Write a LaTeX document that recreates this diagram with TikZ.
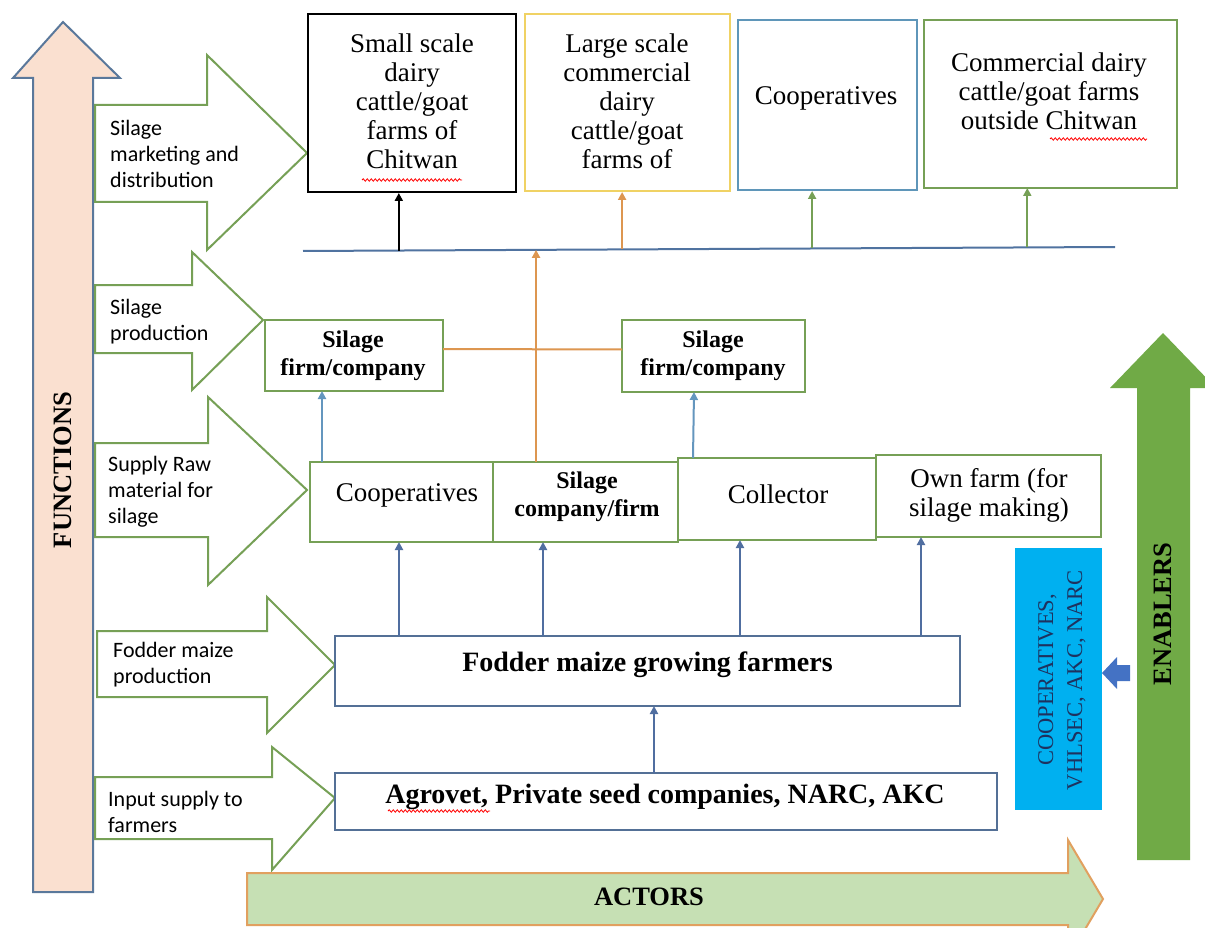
\documentclass[tikz,border=0pt]{standalone}
\usepackage{fontspec}
\setmainfont{Liberation Serif}
\newfontfamily\labelfont{Carlito}
\usetikzlibrary{arrows.meta,calc,decorations.pathmorphing}
\definecolor{gline}{RGB}{118,160,86}
\definecolor{bline}{RGB}{84,112,150}
\definecolor{barrow}{RGB}{80,110,160}
\definecolor{lbarrow}{RGB}{100,150,190}
\definecolor{orng}{RGB}{221,150,80}
\definecolor{yel}{RGB}{240,210,100}
\definecolor{bthree}{RGB}{95,150,185}
\definecolor{peach}{RGB}{250,224,208}
\definecolor{funcline}{RGB}{90,120,155}
\definecolor{actfill}{RGB}{198,224,180}
\definecolor{actline}{RGB}{225,160,95}
\definecolor{engreen}{RGB}{112,170,70}
\definecolor{cyanbox}{RGB}{0,176,240}
\definecolor{navy}{RGB}{30,50,95}
\definecolor{smallarrow}{RGB}{68,114,196}
\definecolor{hline}{RGB}{80,115,160}
\begin{document}
\begin{tikzpicture}[x=1pt,y=-1pt,
  gbox/.style={draw=gline, line width=2pt, inner sep=0pt, outer sep=0pt, fill=white},
  bbox/.style={draw=bline, line width=2pt, inner sep=0pt, outer sep=0pt, fill=white},
  reg/.style={inner sep=0pt, align=center, font=\fontsize{27}{29}\selectfont},
  bld/.style={inner sep=0pt, align=center, font=\fontsize{24}{28}\selectfont\bfseries},
  bigbld/.style={inner sep=0pt, align=center, font=\fontsize{26.5}{30}\selectfont\bfseries},
  boxbld/.style={inner sep=0pt, align=center, font=\fontsize{28}{30}\selectfont\bfseries},
  lbl/.style={inner sep=0pt, anchor=west, align=left, font=\fontsize{22}{26}\selectfont\labelfont},
  funarrow/.style={draw=gline, line width=2pt, fill=white, line join=miter},
  conn/.style={line width=2pt, -{Triangle[width=8pt,length=8pt]}},
  squig/.style={draw=red, line width=0.8pt, decorate, decoration={snake, amplitude=1.2pt, segment length=4pt}}
]
\useasboundingbox (0,0) rectangle (1205,928);
\fill[white] (0,0) rectangle (1205,928);

% FUNCTIONS arrow
\draw[draw=funcline, fill=peach, line width=2pt] (33,892) -- (33,78) -- (13,78) -- (63,22) -- (120,78) -- (93,78) -- (93,892) -- cycle;
\node[bigbld, rotate=90] (functions) at (63,470) {FUNCTIONS};

% function arrows
\draw[funarrow] (95,105) -- (207,105) -- (207,55) -- (307,153) -- (207,250) -- (207,202) -- (95,202) -- cycle;
\draw[funarrow] (95,285) -- (192,285) -- (192,252) -- (263,320) -- (192,390) -- (192,353) -- (95,353) -- cycle;
\draw[funarrow] (95,443) -- (208,443) -- (208,397) -- (307,490) -- (208,585) -- (208,537) -- (95,537) -- cycle;
\draw[funarrow] (97,631) -- (267,631) -- (267,597) -- (335,665) -- (267,733) -- (267,697) -- (97,697) -- cycle;
\draw[funarrow] (95,777) -- (272,777) -- (272,747) -- (335,798) -- (272,870) -- (272,839) -- (95,839) -- cycle;
\node[lbl] (l1) at (110,154) {Silage\\marketing and\\distribution};
\node[lbl] (l2) at (110,321.5) {Silage\\production};
\node[lbl] (l3) at (108,491.5) {Supply Raw\\material for\\silage};
\node[lbl] (l4) at (113,665) {Fodder maize\\production};
\node[lbl] (l5) at (108,811.5) {Input supply to\\farmers};

% ACTORS arrow
\draw[draw=actline, fill=actfill, line width=2pt] (247,873) -- (1068,873) -- (1068,840) -- (1103,899) -- (1068,958) -- (1068,925) -- (247,925) -- cycle;
\node[bigbld] (actors) at (649,897) {ACTORS};

% ENABLERS arrow
\fill[engreen] (1137,860) -- (1137,388) -- (1110,388) -- (1163,333) -- (1216,388) -- (1190,388) -- (1190,860) -- cycle;
\node[bigbld, rotate=90] (enablers) at (1163,614) {ENABLERS};

% top boxes
\node[draw=black, line width=2pt, inner sep=0pt, minimum width=208pt, minimum height=178pt] (b1) at (412,103) {};
\node[draw=yel, line width=2pt, inner sep=0pt, minimum width=205pt, minimum height=177pt] (b2) at (627.5,102.5) {};
\node[draw=bthree, line width=2pt, inner sep=0pt, minimum width=179pt, minimum height=170pt] (b3) at (827.5,105) {};
\node[gbox, minimum width=253pt, minimum height=168pt] (b4) at (1050.5,104) {};
\node[reg] (t1) at (412,101) {Small scale\\dairy\\cattle/goat\\farms of\\Chitwan};
\node[reg] (t2) at (627,101) {Large scale\\commercial\\dairy\\cattle/goat\\farms of};
\node[reg] (t3) at (826,98) {Cooperatives};
\node[reg] (t4) at (1049,91) {Commercial dairy\\cattle/goat farms\\outside Chitwan};

% distribution line
\coordinate (hl) at (303,251);
\coordinate (hr) at (1115,247);
\draw[draw=hline, line width=2pt] (hl) -- (hr);
\coordinate (p1) at ($(hl)!0.118!(hr)$);
\coordinate (p2) at ($(hl)!0.393!(hr)$);
\coordinate (p3) at ($(hl)!0.627!(hr)$);
\coordinate (p4) at ($(hl)!0.892!(hr)$);
\coordinate (po) at ($(hl)!0.287!(hr)$);
\draw[conn, black] (p1) -- (p1 |- b1.south);
\draw[conn, orng] (p2) -- (p2 |- b2.south);
\draw[conn, gline] (p3) -- (p3 |- b3.south);
\draw[conn, gline] (p4) -- (p4 |- b4.south);

% silage firms
\node[gbox, minimum width=178pt, minimum height=71pt] (sf1) at (354,355.5) {};
\node[gbox, minimum width=183pt, minimum height=72pt] (sf2) at (713.5,356) {};
\node[bld] (sf1t) at (353,356) {Silage\\firm/company};
\node[bld] (sf2t) at (713,356) {Silage\\firm/company};

% middle row
\node[gbox, minimum width=183pt, minimum height=80pt] (coop) at (401.5,502) {};
\node[gbox, minimum width=185pt, minimum height=80pt] (sc) at (585.5,502) {};
\node[gbox, minimum width=198pt, minimum height=82pt] (col) at (777,499) {};
\node[gbox, minimum width=225pt, minimum height=82pt] (own) at (988.5,496) {};
\node[reg] (coopt) at (407,495) {Cooperatives};
\node[bld] (sct) at (587,497) {Silage\\company/firm};
\node[reg] (colt) at (778,494) {Collector};
\node[reg] (ownt) at (989,495) {Own farm (for\\silage making)};

% orange connectors
\draw[orng, line width=2pt] ([yshift=6.5pt]sf1.east) -- ([yshift=6.5pt]sf2.west);
\draw[conn, orng] (po |- sc.north) -- (po);

% light blue arrows to silage firms
\draw[conn, lbarrow] ([xshift=12pt]coop.north west) -- ([xshift=12pt]coop.north west |- sf1.south);
\draw[conn, lbarrow] ([xshift=15pt]col.north west) -- ([xshift=72pt]sf2.south west);

% fodder and agrovet
\node[bbox, minimum width=625pt, minimum height=70pt] (fm) at (647.5,671) {};
\node[boxbld] (fmt) at (647.5,665) {Fodder maize growing farmers};
\node[bbox, minimum width=662pt, minimum height=57pt] (ag) at (666,801.5) {};
\node[boxbld] (agt) at (665,797) {Agrovet, Private seed companies, NARC, AKC};

\coordinate (q1) at (399,636);
\coordinate (q2) at (543,636);
\coordinate (q3) at (740,636);
\coordinate (q4) at (921,636);
\draw[conn, barrow] (q1 |- fm.north) -- (q1 |- coop.south);
\draw[conn, barrow] (q2 |- fm.north) -- (q2 |- sc.south);
\draw[conn, barrow] (q3 |- fm.north) -- (q3 |- col.south);
\draw[conn, barrow] (q4 |- fm.north) -- (q4 |- own.south);
\coordinate (q5) at (654,773);
\draw[conn, barrow] (q5 |- ag.north) -- (q5 |- fm.south);

% enablers box
\node[fill=cyanbox, inner sep=0pt, minimum width=87pt, minimum height=262pt] (cb) at (1058.5,679) {};
\node[inner sep=0pt, align=center, rotate=90, text=navy, font=\fontsize{22.5}{29}\selectfont] (cbt) at (1062,680) {COOPERATIVES,\\VHLSEC, AKC, NARC};
\fill[smallarrow] (1102,673) -- (1117,657) -- (1117,665) -- (1130,665) -- (1130,681) -- (1117,681) -- (1117,689) -- cycle;

% spell-check squiggles
\coordinate (s1a) at (362,180); \coordinate (s1b) at (462,180);
\coordinate (s2a) at (1050,139); \coordinate (s2b) at (1147,139);
\coordinate (s3a) at (388,811); \coordinate (s3b) at (490,811);
\draw[squig] (s1a) -- (s1b);
\draw[squig] (s2a) -- (s2b);
\draw[squig] (s3a) -- (s3b);
\end{tikzpicture}
\end{document}
